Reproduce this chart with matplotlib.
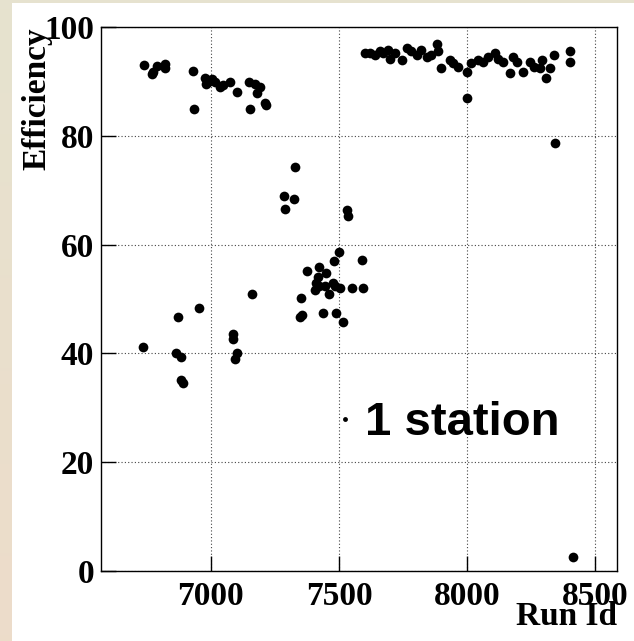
import numpy as np
import matplotlib
matplotlib.use("Agg")
import matplotlib.pyplot as plt
from matplotlib.lines import Line2D
from matplotlib.patches import Rectangle

# efficiency per run
run_id = [6738, 6772, 6775, 6788, 6820, 6821,
          6929, 6934, 6977, 6980, 6990, 7003, 7016, 7035, 7048, 7074, 7103,
          7150, 7152, 7172, 7181, 7191, 7211, 7217,
          6736, 6863, 6872, 6882, 6883, 6890, 6952, 7085, 7086, 7094, 7100, 7159,
          7286, 7291, 7324, 7328, 7347, 7351, 7355, 7376, 7406, 7409, 7419, 7420,
          7423, 7436, 7445, 7449, 7461, 7477, 7480, 7484, 7490, 7500, 7503, 7516,
          7530, 7535, 7549, 7588, 7592,
          7601, 7621, 7640, 7660, 7672, 7692, 7699, 7718, 7744, 7764, 7783, 7803,
          7822, 7842, 7861, 7883, 7887, 7900, 7933, 7946, 7965, 7998, 7998, 8017,
          8043, 8063, 8082, 8108, 8121, 8141, 8167, 8180, 8193, 8219,
          8244, 8260, 8283, 8291, 8307, 8323, 8339, 8342, 8402, 8402, 8414]
efficiency = [93.1, 91.3, 91.8, 92.8, 93.2, 92.4,
              91.9, 84.9, 90.7, 89.5, 89.9, 90.4, 89.9, 89.0, 89.3, 89.8, 88.1,
              89.8, 84.9, 89.5, 87.9, 89.0, 86.0, 85.7,
              41.2, 40.0, 46.6, 39.4, 35.1, 34.5, 48.3, 43.5, 42.6, 38.9, 40.0, 50.9,
              69.0, 66.5, 68.3, 74.2, 46.7, 50.2, 47.1, 55.2, 51.7, 52.9, 54.1, 52.3,
              55.9, 47.4, 52.3, 54.7, 51.0, 52.9, 56.9, 52.3, 47.4, 58.7, 52.0, 45.7,
              66.4, 65.3, 52.1, 57.2, 52.1,
              95.2, 95.2, 94.9, 95.5, 95.2, 95.8, 94.2, 95.2, 93.9, 96.1, 95.5, 94.9,
              95.8, 94.5, 94.9, 96.8, 95.5, 92.4, 93.9, 93.3, 92.7, 91.8, 87.0, 93.3,
              93.9, 93.6, 94.5, 95.2, 94.2, 93.6, 91.5, 94.5, 93.6, 91.8,
              93.6, 92.7, 92.4, 93.9, 90.6, 92.4, 94.9, 78.7, 95.6, 93.6, 2.5]

x_ticks = [7000, 7500, 8000, 8500]
y_ticks = [0, 20, 40, 60, 80, 100]

W, H = 634, 641
fig = plt.figure(figsize=(W / 100, H / 100), dpi=100)

# beige gradient frame behind a white pad
bg = fig.add_axes([0, 0, 1, 1], zorder=-10)
top_c = np.array([0.902, 0.890, 0.812])
bot_c = np.array([0.929, 0.863, 0.792])
t = np.linspace(0, 1, 256)[:, None]
grad = (top_c[None, :] * (1 - t) + bot_c[None, :] * t)[:, None, :]
bg.imshow(grad, aspect="auto", extent=[0, 1, 0, 1])
bg.add_patch(Rectangle((12 / W, 0), 1, 1 - 3 / H, transform=bg.transAxes,
                       facecolor="white", edgecolor="none"))
bg.set_xlim(0, 1)
bg.set_ylim(0, 1)
bg.axis("off")

ax = fig.add_axes([101 / W, 1 - 571 / H, (616.7 - 101) / W, (571 - 27) / H])
ax.set_facecolor("white")
ax.plot(run_id, efficiency, "o", color="black", ms=7, mew=0)

ax.set_xlim(6571, 8584)
ax.set_ylim(0, 100)
ax.set_xticks(x_ticks)
ax.set_yticks(y_ticks)
ax.grid(True, color="#444444", linestyle=(0, (1, 2)), linewidth=0.8)
ax.tick_params(direction="in", length=11, width=1, top=False, right=False)
ax.tick_params(axis="x", pad=7)
ax.tick_params(axis="y", pad=5)
for s in ax.spines.values():
    s.set_linewidth(1)

tfont = dict(family="Liberation Serif", weight="bold", size=24)
for lab in ax.get_xticklabels() + ax.get_yticklabels():
    lab.set_fontproperties(matplotlib.font_manager.FontProperties(**tfont))

ax.set_xlabel("Run Id", loc="right", **tfont)
ax.xaxis.set_label_coords(1.0, -0.056)
ax.set_ylabel("Efficiency", loc="top", **tfont)
ax.yaxis.set_label_coords(-0.094, 1.0)

h = Line2D([], [], marker="o", ls="none", color="black", ms=3.5, mew=0)
ax.legend([h], ["1 station"], loc="center left", bbox_to_anchor=(0.4543, 0.272),
          frameon=False, borderaxespad=0, borderpad=0, handlelength=0.4,
          handletextpad=0.22,
          prop=dict(family="Liberation Sans", weight="bold", size=34))

fig.savefig("out.png", dpi=100)
